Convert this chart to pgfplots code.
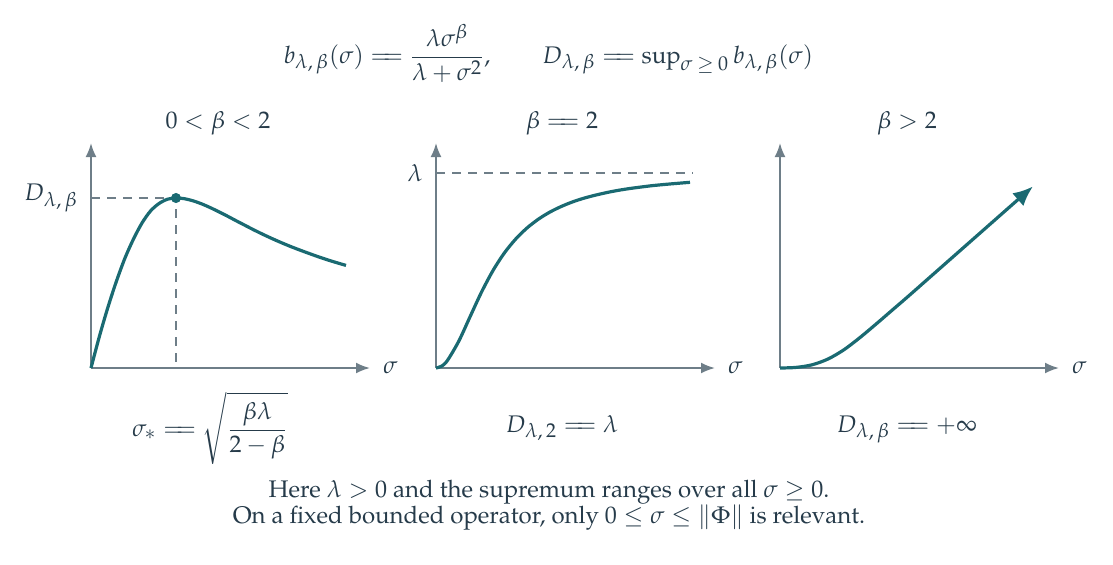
\documentclass[border=0pt]{standalone}
\usepackage[T1]{fontenc}
\usepackage{mathpazo}
\usepackage{pgfplots}
\pgfplotsset{compat=1.18}
\usetikzlibrary{arrows.meta}
\newcommand{\sx}[1]{\mbox{\fontsize{10}{10}\selectfont\thickmuskip=4mu$#1$}}
\newcommand{\eq}{\mathrel{=\mkern-5.5mu=}}
\definecolor{txt}{HTML}{263B4A}
\definecolor{axc}{HTML}{6E7E88}
\definecolor{crv}{HTML}{1A6A72}
\pgfplotsset{panel/.style={
  x=0.5pt, y=0.5pt, xmin=0, xmax=279, ymin=0, ymax=225,
  axis lines=left,
  axis line style={axc, line width=1pt, -{Latex[length=7pt,width=5.5pt]}},
  xtick=\empty, ytick=\empty, clip=false, anchor=origin,
}}
\tikzset{dsh/.style={axc, line width=0.6pt, dash pattern=on 4.5pt off 3.5pt},
  crvs/.style={crv, line width=1.6pt, smooth}}
\pgfplotstableread{
x y
0 0
8.5 32
17 61
25.5 87
34 110
42.5 129
51 145
59.5 157
68 164.5
76.5 168.8
85 170
93.5 169.3
102 167.2
110.5 164.2
119 160.5
127.5 156.4
136 152.1
144.5 147.6
153 143.2
161.5 138.8
170 134.6
178.5 130.6
187 126.8
195.5 123.2
204 119.8
212.5 116.6
221 113.5
229.5 110.5
238 107.7
246.5 105.1
255 102.6
}\panelA
\pgfplotstableread{
x y
0 0
5.7 1.9
11.4 7.5
22.8 26.9
34.2 51.6
45.6 76.1
57 97.5
68.4 115.1
79.8 129.1
91.2 140.2
102.6 149.0
114 156.0
125.4 161.6
136.8 166.2
148.2 169.9
159.6 172.9
171 175.5
182.4 177.7
193.8 179.5
205.2 181.0
216.6 182.4
228 183.5
239.4 184.5
254 185.7
}\panelB
\pgfplotstableread{
x y
0 0
16 0.6
32 3.2
48 9.0
64 18.3
80 30.5
96 43.9
112 57.7
128 71.5
144 85.6
160 99.7
176 113.8
192 127.9
208 142.0
224 156.1
240 170.2
253 181.6
}\panelC
\begin{document}%
\fontsize{12}{14}\selectfont%
\begin{tikzpicture}
\color{txt}
\path[use as bounding box] (0,0) rectangle (556.5pt,-282pt);
\node[anchor=base] at (274.25pt,-31.5pt) {$\displaystyle b_{\sx{\lambda,\beta}}(\sigma)\eq\frac{\lambda\sigma^{\sx{\beta}}}{\lambda+\sigma^{\sx{2}}},\qquad D_{\sx{\lambda,\beta}}\eq\sup\nolimits_{\sx{\sigma\ge 0}} b_{\sx{\lambda,\beta}}(\sigma)$};
\node[anchor=base] at (274.5pt,-248.5pt) {Here $\lambda>0$ and the supremum ranges over all $\sigma\ge 0$.};
\node[anchor=base] at (274.5pt,-261.5pt) {On a fixed bounded operator, only $0\le\sigma\le\|\Phi\|$ is relevant.};
% panel 1
\begin{axis}[panel, at={(45.5pt,-184pt)}]
\draw[dsh] (axis cs:0,170) -- (axis cs:85,170) -- (axis cs:85,0);
\addplot[crvs] table {\panelA};
\addplot[only marks, mark=*, mark size=2.3pt, crv] coordinates {(85,170)};
\node[anchor=east, inner sep=0pt, xshift=-6.5pt] at (axis cs:0,170) {$D_{\sx{\lambda,\beta}}$};
\node[anchor=west, inner sep=0pt, xshift=6.5pt] at (axis cs:279,0) {$\sigma$};
\node[anchor=base] at (axis cs:127,240) {$0<\beta<2$};
\node[anchor=base] at (axis cs:119,-68) {$\displaystyle \sigma_{\sx{*}}\eq\sqrt{\frac{\beta\lambda}{2-\beta}}$};
\end{axis}
% panel 2
\begin{axis}[panel, at={(218pt,-184pt)}]
\draw[dsh] (axis cs:0,195) -- (axis cs:257,195);
\addplot[crvs] table {\panelB};
\node[anchor=east, inner sep=0pt, xshift=-6.5pt] at (axis cs:0,195) {$\lambda$};
\node[anchor=west, inner sep=0pt, xshift=6.5pt] at (axis cs:279,0) {$\sigma$};
\node[anchor=base] at (axis cs:126,240) {$\beta\eq 2$};
\node[anchor=base] at (axis cs:126,-64) {$D_{\sx{\lambda,2}}\eq\lambda$};
\end{axis}
% panel 3
\begin{axis}[panel, at={(390pt,-184pt)}]
\addplot[crvs, -{Latex[length=10pt,width=8.5pt]}] table {\panelC};
\node[anchor=west, inner sep=0pt, xshift=6.5pt] at (axis cs:279,0) {$\sigma$};
\node[anchor=base] at (axis cs:127,240) {$\beta>2$};
\node[anchor=base] at (axis cs:127,-64) {$D_{\sx{\lambda,\beta}}\eq+\infty$};
\end{axis}
\end{tikzpicture}%
\end{document}
